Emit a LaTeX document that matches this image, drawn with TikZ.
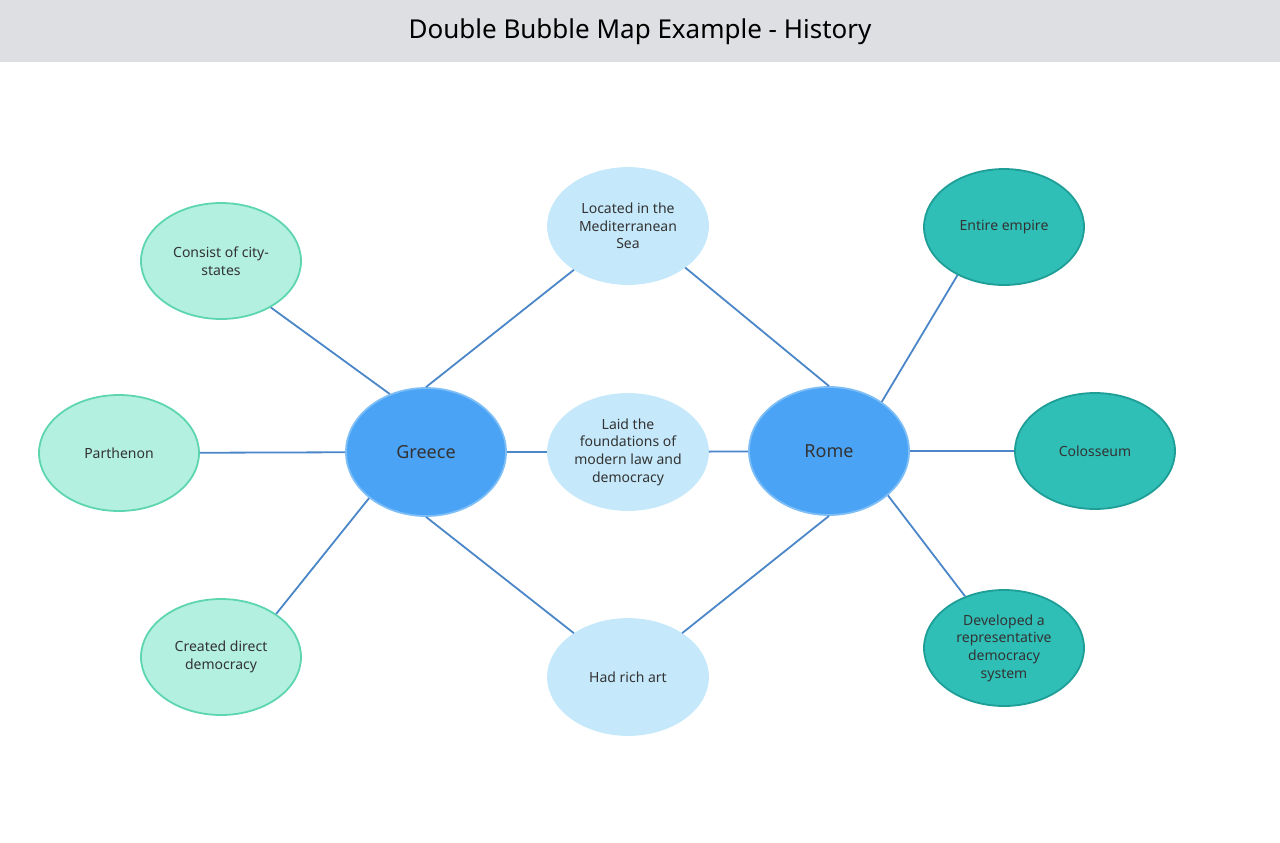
\documentclass[tikz,border=0pt]{standalone}
\usepackage{fontspec}
\setmainfont{Noto Sans}
\usetikzlibrary{shapes.geometric}
\definecolor{hdr}{HTML}{DEDFE3}
\definecolor{link}{HTML}{4A86C8}
\definecolor{mainf}{HTML}{4BA3F5}
\definecolor{maind}{HTML}{7DBEF7}
\definecolor{midf}{HTML}{C5E9FB}
\definecolor{leftf}{HTML}{B3F0DF}
\definecolor{leftd}{HTML}{5DD6B0}
\definecolor{rightf}{HTML}{2FBFB7}
\definecolor{rightd}{HTML}{1E9E96}
\tikzset{
  bub/.style={ellipse,minimum width=80pt,minimum height=58pt,inner sep=0pt,align=center,font=\fontsize{7}{8.8}\selectfont,text=black!80,line width=0.9pt},
  topic/.style={bub,fill=mainf,draw=maind,minimum height=64pt,font=\fontsize{9}{11}\selectfont},
  shared/.style={bub,fill=midf,draw=midf},
  gre/.style={bub,fill=leftf,draw=leftd},
  rom/.style={bub,fill=rightf,draw=rightd},
  lnk/.style={link,line width=0.9pt}
}
\begin{document}
\begin{tikzpicture}[x=0.5pt,y=-0.5pt]
\useasboundingbox (0,0) rectangle (1280,842);
\fill[hdr] (0,0) rectangle (1280,62);
\node (title) at (640,32) {\fontsize{13}{15}\selectfont Double Bubble Map Example - History};
%
\node (g) at (426,452) [topic] {Greece};
\node (r) at (829,451) [topic] {Rome};
%
\node (s1) at (628,226) [shared] {Located in the\\Mediterranean\\Sea};
\node (s2) at (628,452) [shared] {Laid the\\foundations of\\modern law and\\democracy};
\node (s3) at (628,677) [shared] {Had rich art};
%
\node (g1) at (221,261) [gre] {Consist of city-\\states};
\node (g2) at (119,453) [gre] {Parthenon};
\node (g3) at (221,657) [gre] {Created direct\\democracy};
%
\node (r1) at (1004,227) [rom] {Entire empire};
\node (r2) at (1095,451) [rom] {Colosseum};
\node (r3) at (1004,648) [rom] {Developed a\\representative\\democracy\\system};
%%
\draw[lnk] (g.90) -- (s1.219);
\draw[lnk] (g) -- (s2);
\draw[lnk] (g.270) -- (s3.141);
\draw[lnk] (r.90) -- (s1.324);
\draw[lnk] (r) -- (s2);
\draw[lnk] (r.270) -- (s3.39);
%
\draw[lnk] (g.122) -- (g1.317);
\draw[lnk] (g) -- (g2);
\draw[lnk] (g.219) -- (g3.38);
%
\draw[lnk] (r.43) -- (r1.226);
\draw[lnk] (r) -- (r2);
\draw[lnk] (r.323) -- (r3.127);
\end{tikzpicture}
\end{document}
